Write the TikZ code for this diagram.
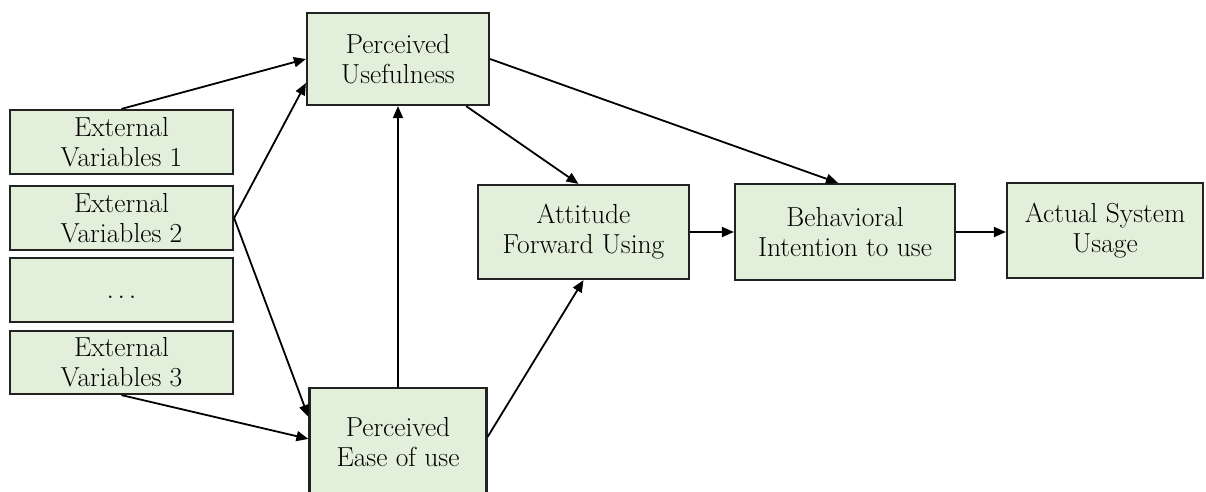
\documentclass[tikz,border=0pt]{standalone}
\usepackage{fontspec}
\setmainfont{Latin Modern Roman}
\usetikzlibrary{arrows.meta}
\definecolor{boxfill}{HTML}{E2EFDA}
\definecolor{boxline}{HTML}{222222}
\begin{document}
\begin{tikzpicture}[x=1pt,y=-1pt,
  box/.style={draw=boxline,line width=2.2pt,fill=boxfill,inner sep=0pt,align=center,
    font=\fontsize{27.5}{30}\selectfont},
  conn/.style={line width=1.8pt,-{Triangle[length=12pt,width=10pt]}}]
\useasboundingbox (0,0) rectangle (1206,491);
\node[box,minimum width=182pt,minimum height=92pt] (pu) at (398,59) {Perceived\\Usefulness};
\node[box,minimum width=223pt,minimum height=64pt] (ev1) at (121.5,142) {External\\Variables 1};
\node[box,minimum width=223pt,minimum height=64pt] (ev2) at (121.5,218) {External\\Variables 2};
\node[box,minimum width=223pt,minimum height=64pt] (evd) at (121.5,290) {};
\node[font=\fontsize{30}{30}\selectfont,anchor=base] (evdtext) at (121.5,298) {.\hspace{0.12em}.\hspace{0.12em}.};
\node[box,minimum width=223pt,minimum height=63pt] (ev3) at (121.5,362.5) {External\\Variables 3};
\node[box,minimum width=177pt,minimum height=132pt] (peou) at (398,454) {};
\node[align=center,font=\fontsize{27.5}{30}\selectfont] (peoutext) at (398,442) {Perceived\\Ease of use};
\node[box,minimum width=211pt,minimum height=94pt] (att) at (583.5,232) {Attitude\\Forward Using};
\node[box,minimum width=220pt,minimum height=96pt] (bi) at (845,232) {Behavioral\\Intention to use};
\node[box,minimum width=196pt,minimum height=95pt] (asu) at (1105,230.5) {Actual System\\Usage};
\draw[conn] (ev1.north) -- (pu.west);
\draw[conn] (ev2.east) -- ([yshift=-24pt]pu.west);
\draw[conn] (ev2.east) -- ([yshift=-30pt]peou.north west);
\draw[conn] (ev3.south) -- ([yshift=-52pt]peou.north west);
\draw[conn] (peou.north) -- (peou.north |- pu.south);
\draw[conn] ([yshift=-50pt]peou.north east) -- (att.south);
\draw[conn] ([xshift=-24pt]pu.south east) -- ([xshift=-5pt]att.north);
\draw[conn] (pu.east) -- ([xshift=-7pt]bi.north);
\draw[conn] (att.east) -- (bi.west);
\draw[conn] (bi.east) -- (bi.east -| asu.west);
\end{tikzpicture}
\end{document}
